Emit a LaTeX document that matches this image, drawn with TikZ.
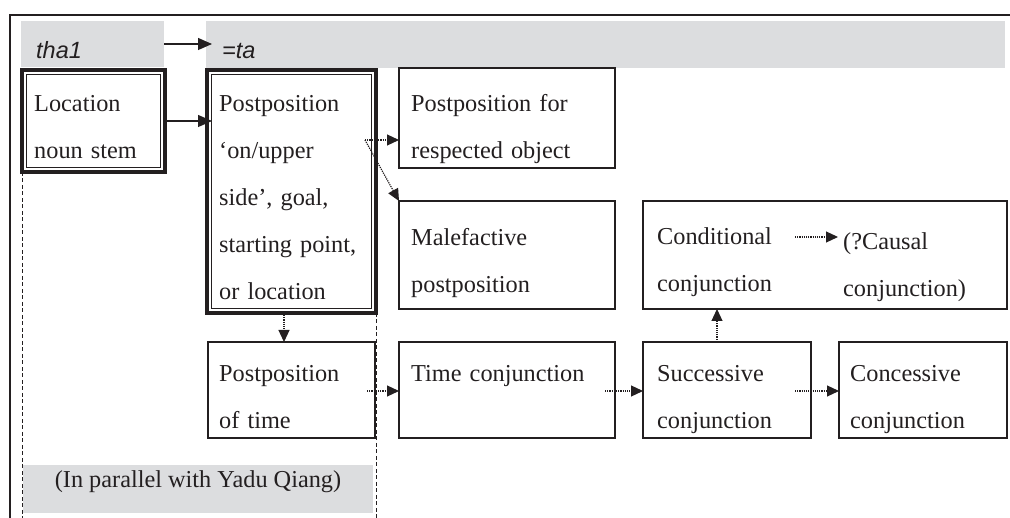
\documentclass[tikz,border=0pt]{standalone}
\usepackage{fontspec}
\setmainfont{Liberation Serif}
\newfontfamily\lsans{Liberation Sans}
\usetikzlibrary{arrows.meta}
\definecolor{band}{HTML}{DCDDDF}
\definecolor{ink}{HTML}{231F20}
\tikzset{
  bx/.style={draw=ink, line width=1.1pt, inner sep=0pt, outer sep=0pt, anchor=north west},
  dbx/.style={draw=ink, line width=3.5pt, inner sep=0pt, outer sep=0pt, anchor=north west},
  gband/.style={fill=band, inner sep=0pt, outer sep=0pt, anchor=north west},
  txt/.style={inner sep=0pt, anchor=base west, text width=300pt, align=left,
    font=\fontsize{24.3}{46.8}\selectfont, text=ink},
  itx/.style={inner sep=0pt, anchor=base west, font=\lsans\itshape\fontsize{23.5}{28}\selectfont, text=ink},
  sarr/.style={draw=ink, line width=1.2pt, -{Triangle[length=14pt,width=12pt]}},
  darr/.style={draw=ink, line width=1.2pt, dash pattern=on 1.2pt off 1pt, -{Triangle[length=12pt,width=11pt]}},
  dline/.style={draw=ink, line width=0.8pt, dash pattern=on 4pt off 2.5pt},
  innerline/.style={draw=ink, line width=0.9pt}
}
\begin{document}
\begin{tikzpicture}[x=1pt,y=-1pt]
\useasboundingbox (0,0) rectangle (1010,518);
% grey bands
\node[gband, minimum width=143, minimum height=46] (b1) at (21,21) {};
\node[gband, minimum width=799, minimum height=47] (b2) at (206,21) {};
\node[gband, minimum width=350, minimum height=48] (b3) at (23,465) {};
% frame
\draw[ink, line width=2pt] (10,518) -- (10,15) -- (1010,15);
% labels in bands
\node[itx] (tha) at (36,59) {tha1};
\node[itx] (ta) at (222,59) {=ta};
% double boxes
\node[dbx, minimum width=143, minimum height=102] (loc) at (22,70) {};
\draw[innerline] ([shift={(4.5,4.5)}]loc.north west) rectangle ([shift={(-4.5,-4.5)}]loc.south east);
\node[dbx, minimum width=169, minimum height=243] (post) at (207,70) {};
\draw[innerline] ([shift={(4.5,4.5)}]post.north west) rectangle ([shift={(-4.5,-4.5)}]post.south east);
% simple boxes
\node[bx, minimum width=216, minimum height=100] (resp) at (399,68) {};
\node[bx, minimum width=216, minimum height=108] (mal) at (399,201) {};
\node[bx, minimum width=364, minimum height=108] (cond) at (643,201) {};
\node[bx, minimum width=167, minimum height=96] (ptime) at (208,342) {};
\node[bx, minimum width=216, minimum height=96] (tconj) at (399,342) {};
\node[bx, minimum width=168, minimum height=96] (succ) at (643,342) {};
\node[bx, minimum width=168, minimum height=96] (conc) at (839,342) {};
% texts
\node[txt] (locT) at (34,112) {Location\\noun stem};
\node[txt] (postT) at (219,112) {Postposition\\‘on/upper\\side’, goal,\\starting point,\\or location};
\node[txt] (respT) at (411,112) {Postposition for\\respected object};
\node[txt] (malT) at (411,246) {Malefactive\\postposition};
\node[txt] (condT) at (657,245) {Conditional\\conjunction};
\node[txt] (causT) at (843,250) {(?Causal\\conjunction)};
\node[txt] (ptimeT) at (219,382) {Postposition\\of time};
\node[txt] (tconjT) at (411,382) {Time conjunction};
\node[txt] (succT) at (657,382) {Successive\\conjunction};
\node[txt] (concT) at (850,382) {Concessive\\conjunction};
\node[inner sep=0pt, anchor=base, font=\fontsize{24.3}{28}\selectfont, text=ink] (par) at (198,488) {(In parallel with Yadu Qiang)};
% dashed guide lines
\draw[dline] (loc.south west) -- ++(0,346);
\draw[dline] (post.south east) -- ++(0,205);
% solid arrows
\draw[sarr, shorten >=-6pt] (b1.east) -- (b1.east -| b2.west);
\draw[sarr, shorten >=-5pt] (loc.east) -- (loc.east -| post.west);
% dotted arrows
\coordinate (p1) at (365,140);
\draw[darr] (p1) -- (p1 -| resp.west);
\draw[darr] (p1) -- (mal.north west);
\coordinate (d1) at (284,315);
\draw[darr] (d1) -- (d1 |- ptime.north);
\coordinate (h1) at (367,391);
\draw[darr] (h1) -- (h1 -| tconj.west);
\coordinate (h2) at (605,391);
\draw[darr] (h2) -- (h2 -| succ.west);
\coordinate (h3) at (795,391);
\draw[darr] (h3) -- (h3 -| conc.west);
\coordinate (u1) at (717,342);
\draw[darr] (u1) -- (u1 |- cond.south);
\coordinate (c1) at (795,237);
\coordinate (c2) at (838,237);
\draw[darr] (c1) -- (c2);
\end{tikzpicture}
\end{document}
